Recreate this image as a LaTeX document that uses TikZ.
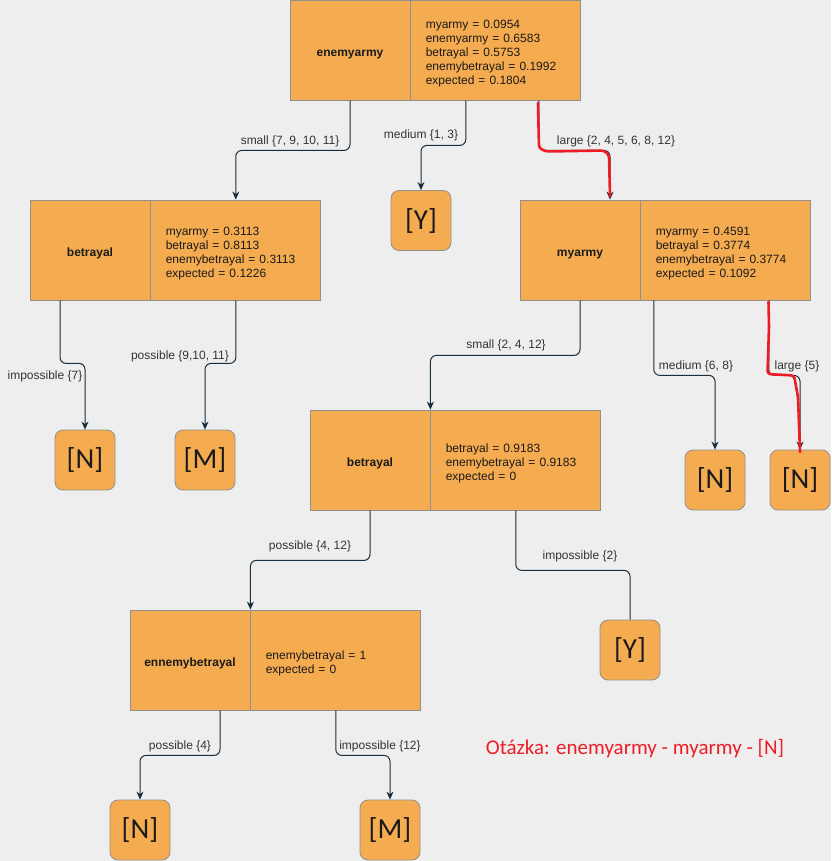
\documentclass[tikz,border=0pt]{standalone}
\usepackage{fontspec}
\setmainfont{Liberation Sans}
\newfontfamily\leaffont{Carlito}
\usetikzlibrary{positioning, arrows.meta}
\definecolor{boxfill}{HTML}{F5AB50}
\definecolor{boxline}{HTML}{909090}
\definecolor{linkline}{HTML}{182E3E}
\definecolor{pagebg}{HTML}{EEEEEE}
\definecolor{boxtext}{HTML}{1A1A1A}
\definecolor{labeltext}{HTML}{333333}
\definecolor{markred}{HTML}{EE1C25}

\begin{document}
\begin{tikzpicture}[x=1pt, y=-1pt,
                    every node/.style={text=boxtext},
                    halfbox/.style={rectangle, draw=boxline, fill=boxfill, line width=0.8pt,
                                    minimum height=100pt, inner sep=0pt,
                                    font=\fontsize{12}{13.9}\selectfont,
                                    execute at begin node={\rule{0pt}{15pt}}},
                    attr/.style={halfbox, minimum width=120pt,
                                 font=\fontsize{12}{13.9}\selectfont\bfseries},
                    stats/.style={halfbox, text width=140pt, inner xsep=15pt, align=left},
                    leaf/.style={rectangle, rounded corners=8pt, draw=boxline, fill=boxfill,
                                 line width=0.8pt, minimum width=60pt, minimum height=60pt,
                                 inner sep=0pt, font=\leaffont\fontsize{29}{29}\selectfont},
                    link/.style={draw=linkline, line width=1pt, rounded corners=6pt,
                                 -{Stealth[length=8pt,width=7pt,inset=2.5pt]}},
                    lbl/.style={font=\fontsize{12}{14}\selectfont, text=labeltext, inner sep=0pt},
                    freehand/.style={draw=markred, line width=2.6pt, line cap=round,
                                     line join=round, rounded corners=3pt}]
    \fill[pagebg] (0,0) rectangle (831,861);
    \useasboundingbox (0,0) rectangle (831,861);

    % split boxes
    \node (eaL)  [attr] at (350,50)            {enemyarmy};
    \node (eaR)  [stats, right=0pt of eaL]     {myarmy = 0.0954\\ enemyarmy = 0.6583\\ betrayal = 0.5753\\ enemybetrayal = 0.1992\\ expected = 0.1804};
    \node (betL) [attr] at (90,250)            {betrayal};
    \node (betR) [stats, right=0pt of betL]    {myarmy = 0.3113\\ betrayal = 0.8113\\ enemybetrayal = 0.3113\\ expected = 0.1226};
    \node (myL)  [attr] at (580,250)           {myarmy};
    \node (myR)  [stats, right=0pt of myL]     {myarmy = 0.4591\\ betrayal = 0.3774\\ enemybetrayal = 0.3774\\ expected = 0.1092};
    \node (midL) [attr] at (370,460)           {betrayal};
    \node (midR) [stats, right=0pt of midL]    {betrayal = 0.9183\\ enemybetrayal = 0.9183\\ expected = 0};
    \node (enL)  [attr] at (190,660)           {ennemybetrayal};
    \node (enR)  [stats, right=0pt of enL]     {enemybetrayal = 1\\ expected = 0};

    % leaves
    \node (y1) [leaf] at (421,220.5) {[Y]};
    \node (n1) [leaf] at (85,460)    {[N]};
    \node (m1) [leaf] at (205,460)   {[M]};
    \node (n2) [leaf] at (715,480)   {[N]};
    \node (n3) [leaf] at (800,480)   {[N]};
    \node (y2) [leaf] at (630,650)   {[Y]};
    \node (n4) [leaf] at (140,830)   {[N]};
    \node (m2) [leaf] at (390,830)   {[M]};

    % connectors
    \draw[link] (eaL.south) -- ++(0,50) -| (betR.north);
    \draw[link] ([xshift=-30pt]eaR.south) -- ++(0,45) -| (y1.north);
    \draw[link] ([xshift=43pt]eaR.south) -- ++(0,50) -| ([xshift=30pt]myL.north);
    \draw[link] ([xshift=-30pt]betL.south) -- ++(0,63) -| (n1.north);
    \draw[link] (betR.south) -- ++(0,63) -| (m1.north);
    \draw[link] (myL.south) -- ++(0,55) -| (midL.north east);
    \draw[link] ([xshift=-72pt]myR.south) -- ++(0,75) -| (n2.north);
    \draw[link] ([xshift=43pt]myR.south) -- ++(0,75) -| (n3.north);
    \draw[link] (midL.south) -- ++(0,50) -| (enL.north east);
    \draw[link, -] (midR.south) -- ++(0,60) -| (y2.north);
    \draw[link] ([xshift=30pt]enL.south) -- ++(0,45) -| (n4.north);
    \draw[link] (enR.south) -- ++(0,45) -| (m2.north);

    % connector labels
    \node (lSmallA) [lbl] at (290,141) {small \{7, 9, 10, 11\}};
    \node (lMedA)   [lbl] at (421,135) {medium \{1, 3\}};
    \node (lLargeA) [lbl] at (616,141) {large \{2, 4, 5, 6, 8, 12\}};
    \node (lImpA)   [lbl] at (45,376)  {impossible \{7\}};
    \node (lPosA)   [lbl] at (180,356) {possible \{9,10, 11\}};
    \node (lSmallB) [lbl] at (506,345) {small \{2, 4, 12\}};
    \node (lMedB)   [lbl] at (696,366) {medium \{6, 8\}};
    \node (lLargeB) [lbl] at (797,366) {large \{5\}};
    \node (lPosB)   [lbl] at (310,546) {possible \{4, 12\}};
    \node (lImpB)   [lbl] at (580,556) {impossible \{2\}};
    \node (lPosC)   [lbl] at (180,746) {possible \{4\}};
    \node (lImpC)   [lbl] at (380,746) {impossible \{12\}};

    % red answer path and question
    \draw[freehand] (538,103) -- (539,148) -- (546,151.5) -- (604,150.5) -- (609,155) -- (610,196);
    \draw[freehand] (768.5,302) -- (769,327) -- (767.5,374) -- (794,375.5) -- (798,397) -- (800,452);
    \node (question) [font=\leaffont\fontsize{21}{22}\selectfont, text=markred] at (635,749)
        {Otázka: enemyarmy - myarmy - [N]};
\end{tikzpicture}
\end{document}
